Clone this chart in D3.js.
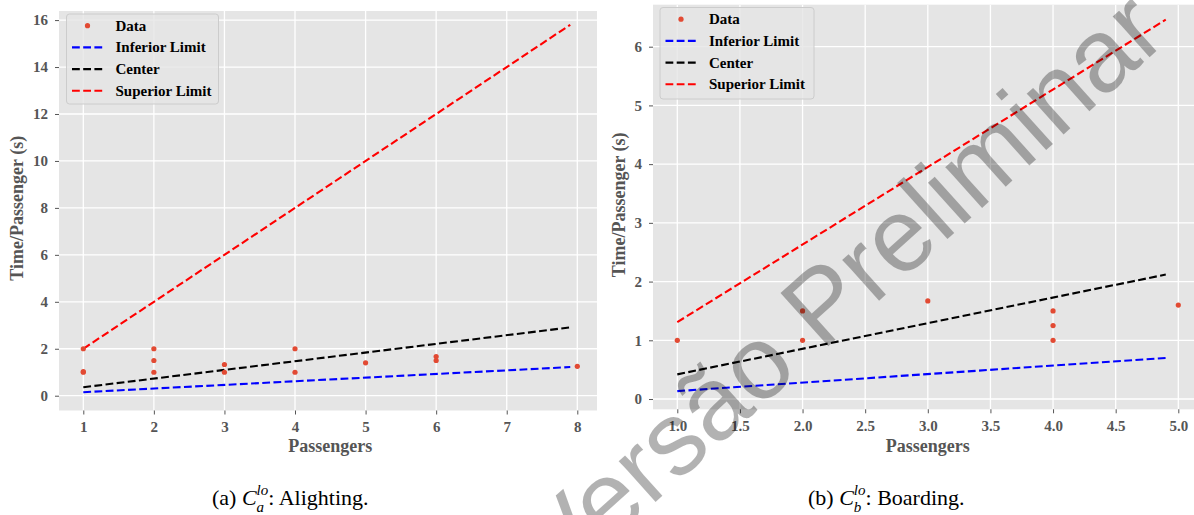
<!DOCTYPE html>
<html><head><meta charset="utf-8">
<script src="https://cdn.jsdelivr.net/npm/d3@7"></script>
<style>body{margin:0;background:#fff;overflow:hidden}</style>
</head><body>
<svg id="c" width="1194" height="515" xmlns="http://www.w3.org/2000/svg"></svg>
<script>
// ---- data: (a) Alighting ----
const alightX = [1, 1, 1, 2, 2, 2, 3, 3, 4, 4, 5, 6, 6, 8];
const alightY = [1.0, 1.03, 2.0, 1.0, 1.5, 2.0, 1.0, 1.33, 1.0, 2.0, 1.4, 1.5, 1.67, 1.25];
const alightLineX = [1, 7.9];
const alightInferior = [0.15, 1.22];
const alightCenter = [0.36, 2.91];
const alightSuperior = [2.0, 15.8];
const alightXTicks = [1, 2, 3, 4, 5, 6, 7, 8];
const alightYTicks = [0, 2, 4, 6, 8, 10, 12, 14, 16];

// ---- data: (b) Boarding ----
const boardX = [1, 2, 2, 3, 4, 4, 4, 5];
const boardY = [1.0, 1.0, 1.5, 1.67, 1.0, 1.25, 1.5, 1.6];
const boardLineX = [1, 4.9];
const boardInferior = [0.135, 0.70];
const boardCenter = [0.42, 2.12];
const boardSuperior = [1.31, 6.46];
const boardXTicks = [1.0, 1.5, 2.0, 2.5, 3.0, 3.5, 4.0, 4.5, 5.0];
const boardYTicks = [0, 1, 2, 3, 4, 5, 6];

const legendLabels = ["Data", "Inferior Limit", "Center", "Superior Limit"];
const xLabel = "Passengers";
const yLabel = "Time/Passenger (s)";
const watermark = "Versão Preliminar";

const svg = d3.select("#c");
const defs = svg.append("defs");
const SERIF = "'Liberation Serif','Times New Roman',serif";
const lineColors = {inf: "#0000FF", cen: "#000000", sup: "#FF0000"};
const dotColor = "#E24A33";

function panel(o) {
  const x = d3.scaleLinear().domain(o.xDomain).range(o.xRange);
  const y = d3.scaleLinear().domain(o.yDomain).range(o.yRange);
  const vis = o.vis; // visible box [x0,y0,x1,y1]
  const g = svg.append("g");
  defs.append("clipPath").attr("id", o.id).append("rect")
    .attr("x", vis[0]).attr("y", vis[1]).attr("width", vis[2]-vis[0]).attr("height", vis[3]-vis[1]);
  g.append("rect").attr("x", vis[0]).attr("y", vis[1]).attr("width", vis[2]-vis[0]).attr("height", vis[3]-vis[1])
    .attr("fill", "#E5E5E5");
  const p = g.append("g").attr("clip-path", `url(#${o.id})`);
  p.selectAll(".gx").data(o.xTicks).join("line")
    .attr("x1", d => x(d)).attr("x2", d => x(d)).attr("y1", vis[1]).attr("y2", vis[3])
    .attr("stroke", "#fff").attr("stroke-width", 1.3);
  p.selectAll(".gy").data(o.yTicks).join("line")
    .attr("y1", d => y(d)).attr("y2", d => y(d)).attr("x1", vis[0]).attr("x2", vis[2])
    .attr("stroke", "#fff").attr("stroke-width", 1.3);

  const line = d3.line().x(d => x(d[0])).y(d => y(d[1]));
  const series = [["inf", o.inf], ["cen", o.cen], ["sup", o.sup]];
  series.forEach(([k, vals]) => {
    p.append("path").datum(o.lineX.map((xv, i) => [xv, vals[i]]))
      .attr("d", line).attr("fill", "none").attr("stroke", lineColors[k])
      .attr("stroke-width", 2.1).attr("stroke-dasharray", "7.8 3.4");
  });
  p.selectAll(".pt").data(o.px.map((xv, i) => [xv, o.py[i]])).join("circle")
    .attr("cx", d => x(d[0])).attr("cy", d => y(d[1])).attr("r", 2.6).attr("fill", dotColor);

  // axes
  const ax = g.append("g").attr("transform", `translate(0,${vis[3]})`)
    .call(d3.axisBottom(x).tickValues(o.xTicks).tickFormat(o.xFmt).tickSize(4).tickPadding(7));
  const ay = g.append("g").attr("transform", `translate(${vis[0]},0)`)
    .call(d3.axisLeft(y).tickValues(o.yTicks).tickFormat(d3.format("d")).tickSize(4).tickPadding(7));
  [ax, ay].forEach(a => {
    a.select(".domain").remove();
    a.selectAll(".tick line").attr("stroke", "#555").attr("stroke-width", 1);
    a.selectAll(".tick text").attr("fill", "#555").style("font-family", SERIF)
      .style("font-size", "15px").style("font-weight", "bold");
  });
  // labels
  g.append("text").attr("x", (o.xRange[0] + o.xRange[1]) / 2).attr("y", 452)
    .attr("text-anchor", "middle").attr("fill", "#555")
    .style("font-family", SERIF).style("font-size", "18px").style("font-weight", "bold").text(xLabel);
  g.append("text").attr("transform", `translate(${o.yLabelX},${(o.yRange[0] + o.yRange[1]) / 2}) rotate(-90)`)
    .attr("text-anchor", "middle").attr("fill", "#555")
    .style("font-family", SERIF).style("font-size", "18px").style("font-weight", "bold").text(yLabel);

  // legend
  const L = o.legend;
  const lg = g.append("g");
  lg.append("rect").attr("x", L.x).attr("y", L.y).attr("width", L.w).attr("height", L.h)
    .attr("rx", 3).attr("fill", "#E5E5E5").attr("fill-opacity", 0.8).attr("stroke", "#CCCCCC").attr("stroke-width", 1);
  legendLabels.forEach((lab, i) => {
    const cy = L.y + 11.7 + i * 21.7;
    if (i === 0) {
      lg.append("circle").attr("cx", L.x + 21).attr("cy", cy).attr("r", 2.6).attr("fill", dotColor);
    } else {
      const k = ["inf", "cen", "sup"][i - 1];
      lg.append("line").attr("x1", L.x + 5.5).attr("x2", L.x + 36.5).attr("y1", cy).attr("y2", cy)
        .attr("stroke", lineColors[k]).attr("stroke-width", 2.1).attr("stroke-dasharray", "7.8 3.4");
    }
    lg.append("text").attr("x", L.x + 49).attr("y", cy + 5).attr("fill", "#000")
      .style("font-family", SERIF).style("font-size", "15px").style("font-weight", "bold").text(lab);
  });
}

panel({
  id: "clipA", xDomain: [0.65, 8.35], xRange: [58.6, 602.0],
  yDomain: [-0.63, 16.6], yRange: [410.5, 6.0], vis: [59, 11, 597, 410.5],
  xTicks: alightXTicks, yTicks: alightYTicks, xFmt: d3.format("d"),
  lineX: alightLineX, inf: alightInferior, cen: alightCenter, sup: alightSuperior,
  px: alightX, py: alightY, yLabelX: 23,
  legend: {x: 66.5, y: 14, w: 152, h: 90}
});
panel({
  id: "clipB", xDomain: [0.8, 5.2], xRange: [652.25, 1203.35],
  yDomain: [-0.175, 6.79], yRange: [409.3, 0.3], vis: [653, 4.7, 1194, 409.3],
  xTicks: boardXTicks, yTicks: boardYTicks, xFmt: d3.format(".1f"),
  lineX: boardLineX, inf: boardInferior, cen: boardCenter, sup: boardSuperior,
  px: boardX, py: boardY, yLabelX: 625,
  legend: {x: 660, y: 7.5, w: 154, h: 91.5}
});

// captions
function caption(x0, letter, sub, rest) {
  const t = svg.append("text").attr("x", x0).attr("y", 505).attr("fill", "#000")
    .style("font-family", SERIF).style("font-size", "22px");
  t.append("tspan").text(`(${letter}) `);
  t.append("tspan").style("font-style", "italic").text("C");
  const len = t.node().getComputedTextLength();
  t.append("tspan").style("font-style", "italic").style("font-size", "15px").attr("dy", -10).text("lo");
  t.append("tspan").attr("dy", 10).text(rest);
  svg.append("text").attr("x", x0 + len).attr("y", 512).attr("fill", "#000")
    .style("font-family", SERIF).style("font-size", "15px").style("font-style", "italic").text(sub);
}
caption(212, "a", "a", ": Alighting.");
caption(808, "b", "b", ": Boarding.");

// watermark
svg.append("text").attr("transform", "translate(560,588) rotate(-42)")
  .attr("fill", "#000").attr("fill-opacity", 0.3)
  .style("font-family", "'Liberation Sans',Arial,sans-serif").style("font-size", "104px")
  .text(watermark);
</script>
</body></html>
